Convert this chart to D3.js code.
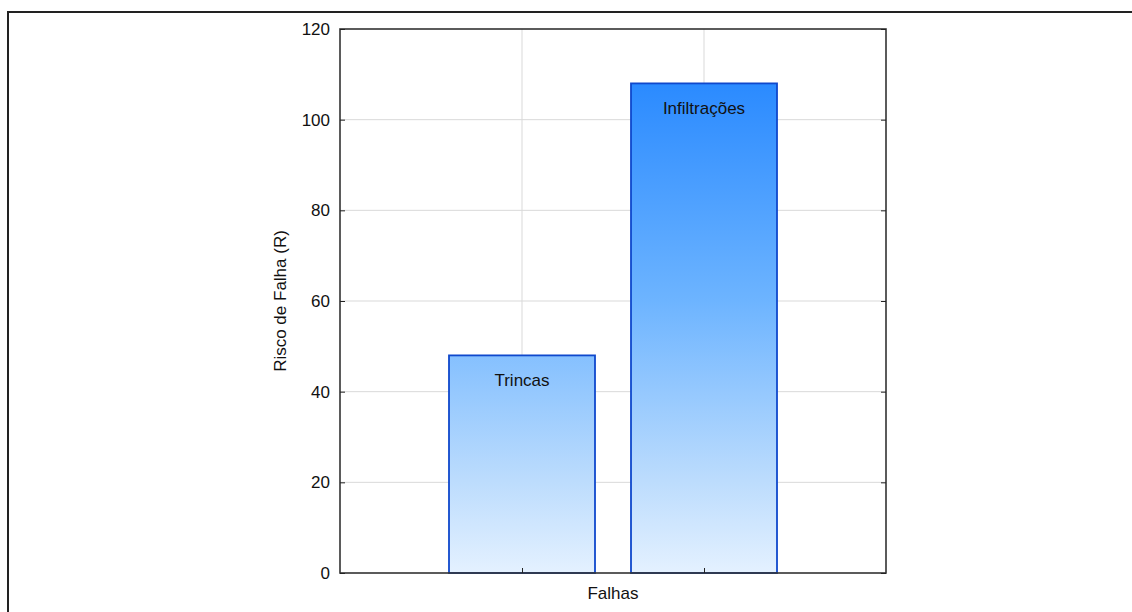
<!DOCTYPE html>
<html>
<head>
<meta charset="utf-8">
<script src="https://cdn.jsdelivr.net/npm/d3@7"></script>
<style>
  html, body { margin: 0; padding: 0; background: #fff; }
  svg { display: block; }
  text { font-family: "Liberation Sans", Arial, sans-serif; }
</style>
</head>
<body>
<svg id="chart" width="1132" height="612"></svg>
<script>
const categories = ["Trincas", "Infiltrações"];
const values = [48, 108];
const yTicks = [0, 20, 40, 60, 80, 100, 120];
const xTitle = "Falhas";
const yTitle = "Risco de Falha (R)";

const svg = d3.select("#chart");
const W = 1132, H = 612;
const m = { left: 340, top: 29, right: 886, bottom: 573 };
const FS = 17;

// outer frame
svg.append("rect")
  .attr("x", 8).attr("y", 12)
  .attr("width", W).attr("height", H)
  .attr("fill", "none").attr("stroke", "#222").attr("stroke-width", 2);

const x = d3.scalePoint().domain(categories).range([m.left, m.right]).padding(1);
const y = d3.scaleLinear().domain([0, 120]).range([m.bottom, m.top]);
const barW = 146;

const defs = svg.append("defs");
const grad = defs.append("linearGradient")
  .attr("id", "barGrad")
  .attr("gradientUnits", "userSpaceOnUse")
  .attr("x1", 0).attr("x2", 0)
  .attr("y1", y(0)).attr("y2", y(120));
grad.append("stop").attr("offset", "0%").attr("stop-color", "#e4f1ff");
grad.append("stop").attr("offset", "17%").attr("stop-color", "#bcdcfd");
grad.append("stop").attr("offset", "50%").attr("stop-color", "#6db4ff");
grad.append("stop").attr("offset", "100%").attr("stop-color", "#1a80ff");

// grid
const g = svg.append("g");
g.selectAll("line.hg").data(yTicks.filter(t => t > 0 && t < 120)).join("line")
  .attr("x1", m.left).attr("x2", m.right)
  .attr("y1", d => y(d)).attr("y2", d => y(d))
  .attr("stroke", "#d9d9d9").attr("stroke-width", 1);
g.selectAll("line.vg").data(categories).join("line")
  .attr("x1", d => x(d)).attr("x2", d => x(d))
  .attr("y1", m.top).attr("y2", m.bottom)
  .attr("stroke", "#d9d9d9").attr("stroke-width", 1);

// bars
svg.selectAll("rect.bar").data(categories).join("rect")
  .attr("class", "bar")
  .attr("x", d => x(d) - barW / 2)
  .attr("y", (d, i) => y(values[i]))
  .attr("width", barW)
  .attr("height", (d, i) => y(0) - y(values[i]))
  .attr("fill", "url(#barGrad)")
  .attr("stroke", "#0f48cc").attr("stroke-width", 1.8);

// bar labels
svg.selectAll("text.bl").data(categories).join("text")
  .attr("x", d => x(d))
  .attr("y", (d, i) => y(values[i]) + 31)
  .attr("text-anchor", "middle")
  .attr("font-size", FS)
  .attr("fill", "#111")
  .text(d => d);

// plot frame
svg.append("rect")
  .attr("x", m.left).attr("y", m.top)
  .attr("width", m.right - m.left).attr("height", m.bottom - m.top)
  .attr("fill", "none").attr("stroke", "#333").attr("stroke-width", 1.6);

// axes
const yAxisL = d3.axisLeft(y).tickValues(yTicks).tickSize(-5).tickPadding(10);
const gl = svg.append("g").attr("transform", `translate(${m.left},0)`).call(yAxisL);
gl.select(".domain").remove();
gl.selectAll(".tick line").attr("stroke", "#222");
gl.selectAll(".tick text").attr("font-size", FS).attr("fill", "#111")
  .attr("font-family", "Liberation Sans, Arial, sans-serif");

const yAxisR = d3.axisRight(y).tickValues(yTicks).tickSize(-5).tickFormat("");
const gr = svg.append("g").attr("transform", `translate(${m.right},0)`).call(yAxisR);
gr.select(".domain").remove();
gr.selectAll(".tick line").attr("stroke", "#222");

const xAxis = d3.axisBottom(x).tickSize(-5).tickFormat("");
const gx = svg.append("g").attr("transform", `translate(0,${m.bottom})`).call(xAxis);
gx.select(".domain").remove();
gx.selectAll(".tick line").attr("stroke", "#222");

// titles
svg.append("text")
  .attr("x", (m.left + m.right) / 2).attr("y", 599)
  .attr("text-anchor", "middle").attr("font-size", FS).attr("fill", "#111")
  .text(xTitle);
svg.append("text")
  .attr("transform", `translate(286,${(m.top + m.bottom) / 2}) rotate(-90)`)
  .attr("text-anchor", "middle").attr("font-size", FS).attr("fill", "#111")
  .text(yTitle);
</script>
</body>
</html>
